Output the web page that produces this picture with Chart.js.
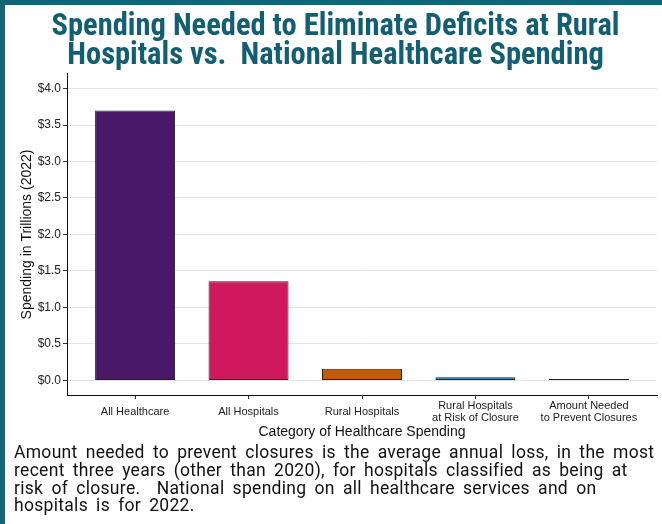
<!DOCTYPE html>
<html>
<head>
<meta charset="utf-8">
<script src="https://cdn.jsdelivr.net/npm/chart.js@4"></script>
<style>
  html, body { margin: 0; padding: 0; background: #ffffff; }
  body { width: 662px; height: 524px; position: relative; overflow: hidden; }
  #frameTop { position: absolute; left: 0; top: 0; width: 662px; height: 5px; background: #156579; }
  #frameLeft { position: absolute; left: 0; top: 0; width: 5px; height: 524px; background: #156579; }
  #wrap { position: absolute; left: 0; top: 0; width: 662px; height: 446px; }
  #caption { position: absolute; left: 14px; top: 444px; width: 648px;
    font-family: "Roboto", "Liberation Sans", sans-serif;
    font-size: 17.5px; line-height: 17.8px; color: #111; letter-spacing: 0.3px; word-spacing: 3.5px; white-space: nowrap; }
</style>
</head>
<body>
<div id="wrap"><canvas id="c"></canvas></div>
<div id="frameTop"></div>
<div id="frameLeft"></div>
<div id="caption">Amount needed to prevent closures is the average annual loss, in the most<br>recent three years (other than 2020), for hospitals classified as being at<br>risk of closure.&nbsp; National spending on all healthcare services and on<br>hospitals is for 2022.</div>
<script>
const categories = [
  ["All Healthcare"],
  ["All Hospitals"],
  ["Rural Hospitals"],
  ["Rural Hospitals", "at Risk of Closure"],
  ["Amount Needed", "to Prevent Closures"]
];
const spendingTrillions = [3.70, 1.36, 0.16, 0.042, 0.018];
const barColors = ["#4a1868", "#d0185c", "#c45a00", "#176a99", "#3f3f3f"];
const yTickValues = [0, 0.5, 1, 1.5, 2, 2.5, 3, 3.5, 4];
const positions = [1, 2, 3, 4, 5];

const ctx = document.getElementById('c');
new Chart(ctx, {
  type: 'bar',
  data: {
    datasets: [{
      data: positions.map((p, i) => ({ x: p, y: spendingTrillions[i] })),
      backgroundColor: barColors,
      borderColor: '#222222',
      borderWidth: 1,
      borderSkipped: false,
      barPercentage: 0.705,
      categoryPercentage: 1
    }]
  },
  options: {
    responsive: true,
    maintainAspectRatio: false,
    animation: false,
    layout: { padding: { top: 0, right: 5, bottom: 5, left: 14 } },
    plugins: {
      legend: { display: false },
      tooltip: { enabled: false },
      title: {
        display: true,
        text: ['Spending Needed to Eliminate Deficits at Rural', 'Hospitals vs.  National Healthcare Spending'],
        color: '#125e72',
        font: { family: '"Roboto Condensed", Roboto, sans-serif', size: 30.5, weight: 'bold', lineHeight: 0.95 },
        padding: { top: 13, bottom: 3 }
      }
    },
    scales: {
      x: {
        type: 'linear',
        min: 0.4,
        max: 5.6,
        offset: false,
        afterBuildTicks: (scale) => { scale.ticks = positions.map(v => ({ value: v })); },
        afterFit: (scale) => { scale.height = 46; },
        ticks: {
          autoSkip: false,
          maxRotation: 0,
          crossAlign: 'center',
          color: '#222',
          font: { family: '"Liberation Sans", Arial, sans-serif', size: 11, lineHeight: 1.05 },
          padding: 7,
          callback: (v) => categories[Math.round(v) - 1] || ''
        },
        grid: { display: true, offset: false, drawOnChartArea: false, drawTicks: true, tickLength: 4, tickColor: '#333' },
        border: { display: true, color: '#111', width: 1 },
        title: {
          display: true,
          text: 'Category of Healthcare Spending',
          color: '#111',
          font: { family: '"Liberation Sans", Arial, sans-serif', size: 14 },
          padding: { top: 1, bottom: 0 }
        }
      },
      y: {
        min: -0.2,
        max: 4.2,
        afterBuildTicks: (scale) => { scale.ticks = yTickValues.map(v => ({ value: v })); },
        afterFit: (scale) => { scale.width = 53; },
        ticks: {
          color: '#222',
          font: { family: '"Liberation Sans", Arial, sans-serif', size: 12 },
          padding: 2,
          callback: (v) => '$' + Number(v).toFixed(1)
        },
        grid: { color: '#e3e3e3', lineWidth: 1, drawTicks: true, tickLength: 4, tickColor: '#333' },
        border: { display: true, color: '#111', width: 1 },
        title: {
          display: true,
          text: 'Spending in Trillions (2022)',
          color: '#111',
          font: { family: '"Liberation Sans", Arial, sans-serif', size: 14 },
          padding: { top: 5, bottom: 0 }
        }
      }
    }
  }
});
</script>
</body>
</html>
